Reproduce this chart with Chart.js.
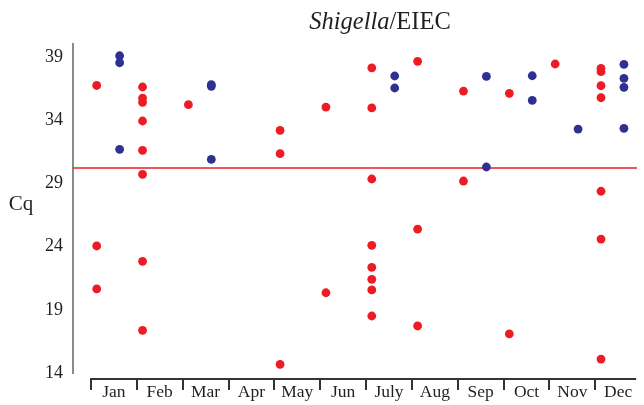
<!DOCTYPE html>
<html>
<head>
<meta charset="utf-8">
<script src="https://cdn.jsdelivr.net/npm/chart.js@4/dist/chart.umd.min.js"></script>
<style>
html,body{margin:0;padding:0;background:#fff;}
#c{display:block;}
</style>
</head>
<body>
<canvas id="c" width="644" height="405"></canvas>
<script>
// ---- data ----
const months = ['Jan','Feb','Mar','Apr','May','Jun','July','Aug','Sep','Oct','Nov','Dec'];
const redCq = [
  [36.75, 24.05, 20.65],
  [36.63, 35.75, 35.42, 33.94, 31.62, 29.72, 22.84, 17.38],
  [35.23],
  [],
  [33.2, 31.35, 14.69],
  [35.04, 20.35],
  [38.15, 34.97, 29.35, 24.1, 22.36, 21.41, 20.57, 18.51],
  [38.66, 25.39, 17.72],
  [36.31, 29.19],
  [36.13, 17.09],
  [38.45],
  [38.1, 37.84, 36.73, 35.78, 28.38, 24.6, 15.1]
];
const blueCq = [
  [39.1, 38.55, 31.7],
  [],
  [36.82, 36.68, 30.9],
  [],
  [],
  [],
  [37.5, 36.55],
  [],
  [37.47, 30.3],
  [37.52, 35.57],
  [33.3],
  [38.42, 37.31, 36.6, 33.36]
];
const cutoffCq = 30.22;
const yTicks = [14, 19, 24, 29, 34, 39];
const titleItalic = 'Shigella';
const titleRest = '/EIEC';
const yTitle = 'Cq';

// ---- build points ----
function toPoints(arr, offset){
  const pts = [];
  arr.forEach((vals, i) => vals.forEach(v => pts.push({x: i + offset, y: v})));
  return pts;
}
const RED = '#ED1C24', BLUE = '#2E3192', INK = '#231F20';
const SERIF = '"Liberation Serif", "DejaVu Serif", serif';
const X_MIN = -0.517, X_MAX = 11.785;

const decor = {
  id: 'decor',
  afterDraw(chart){
    const ctx = chart.ctx, xs = chart.scales.x;
    ctx.save();
    // title
    ctx.fillStyle = INK;
    ctx.textBaseline = 'alphabetic';
    ctx.font = 'italic 24.5px ' + SERIF;
    const w1 = ctx.measureText(titleItalic).width;
    ctx.font = '24.5px ' + SERIF;
    const w2 = ctx.measureText(titleRest).width;
    const cx = 380, start = cx - (w1 + w2) / 2;
    ctx.font = 'italic 24.5px ' + SERIF;
    ctx.textAlign = 'left';
    ctx.fillText(titleItalic, start, 28.5);
    ctx.font = '24.5px ' + SERIF;
    ctx.fillText(titleRest, start + w1, 28.5);
    // y title
    ctx.font = '21px ' + SERIF;
    ctx.textAlign = 'center';
    ctx.textBaseline = 'middle';
    ctx.fillText(yTitle, 21, 204);
    // x axis (separate bracket axis)
    const yAx = 379;
    const bx = i => xs.getPixelForValue(i - 0.125);
    ctx.strokeStyle = '#333';
    ctx.lineWidth = 2;
    ctx.beginPath();
    ctx.moveTo(bx(0), yAx);
    ctx.lineTo(bx(months.length) - 5, yAx);
    ctx.stroke();
    for (let i = 0; i < months.length; i++){
      const px = Math.round(bx(i));
      ctx.beginPath();
      ctx.moveTo(px, yAx - 1);
      ctx.lineTo(px, yAx + 11);
      ctx.stroke();
    }
    ctx.font = '17.5px ' + SERIF;
    ctx.fillStyle = INK;
    ctx.textAlign = 'center';
    ctx.textBaseline = 'alphabetic';
    months.forEach((m, i) => {
      ctx.fillText(m, xs.getPixelForValue(i + 0.375), 397);
    });
    ctx.restore();
  }
};

new Chart(document.getElementById('c'), {
  type: 'scatter',
  data: {
    datasets: [
      {
        label: 'cutoff',
        data: [{x: X_MIN, y: cutoffCq}, {x: X_MAX, y: cutoffCq}],
        showLine: true,
        borderColor: RED,
        borderWidth: 1.3,
        pointRadius: 0,
        order: 3
      },
      {
        label: 'red',
        data: toPoints(redCq, 0),
        backgroundColor: RED,
        borderColor: RED,
        borderWidth: 0,
        pointRadius: 4.4,
        order: 2
      },
      {
        label: 'blue',
        data: toPoints(blueCq, 0.5),
        backgroundColor: BLUE,
        borderColor: BLUE,
        borderWidth: 0,
        pointRadius: 4.4,
        order: 1
      }
    ]
  },
  options: {
    responsive: false,
    animation: false,
    devicePixelRatio: 1,
    layout: { padding: { left: 0, top: 44.4, right: 7, bottom: 32 } },
    plugins: { legend: { display: false }, tooltip: { enabled: false }, title: { display: false } },
    scales: {
      x: {
        type: 'linear',
        min: X_MIN,
        max: X_MAX,
        display: false
      },
      y: {
        type: 'linear',
        min: 14,
        max: 40,
        afterFit(scale){ scale.width = 73; },
        afterBuildTicks(scale){ scale.ticks = yTicks.map(v => ({value: v})); },
        grid: { display: false, drawTicks: false },
        border: { display: true, color: '#8a8a8a', width: 2 },
        ticks: {
          padding: 10,
          color: INK,
          font: { family: SERIF, size: 18 }
        }
      }
    }
  },
  plugins: [decor]
});
</script>
</body>
</html>
